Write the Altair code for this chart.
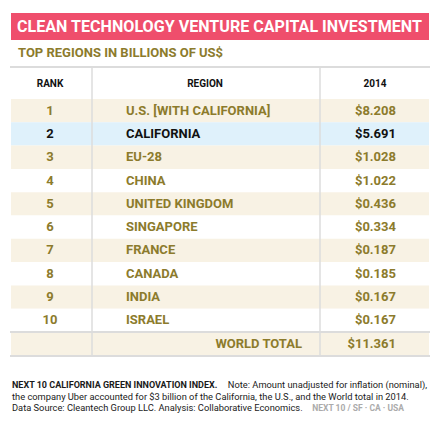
import altair as alt
import pandas as pd

# ---- data ----
TITLE = "CLEAN TECHNOLOGY VENTURE CAPITAL INVESTMENT"
SUBTITLE = "TOP REGIONS IN BILLIONS OF US$"
HEADERS = ["RANK", "REGION", "2014"]
ranks = [1, 2, 3, 4, 5, 6, 7, 8, 9, 10]
regions = ["U.S. [WITH CALIFORNIA]", "CALIFORNIA", "EU-28", "CHINA", "UNITED KINGDOM",
           "SINGAPORE", "FRANCE", "CANADA", "INDIA", "ISRAEL"]
values_2014 = [8.208, 5.691, 1.028, 1.022, 0.436, 0.334, 0.187, 0.185, 0.167, 0.167]
TOTAL_LABEL = "WORLD TOTAL"
TOTAL_VALUE = 11.361
NOTE_BOLD = "NEXT 10 CALIFORNIA GREEN INNOVATION INDEX."
NOTE_1 = "Note: Amount unadjusted for inflation (nominal),"
NOTE_2 = "the company Uber accounted for $3 billion of the California, the U.S., and the World total in 2014."
NOTE_3 = "Data Source: Cleantech Group LLC. Analysis: Collaborative Economics."
NOTE_BRAND = "NEXT 10  /  SF · CA · USA"

# ---- style ----
PINK = "#EF4E6C"
OLIVE = "#8C7B2C"
CREAM = "#F8F2E4"
BLUE = "#DFF1FB"
GRID = "#DCDCDC"
FONT = "Roboto"
NOTE_FONT = "Roboto"

W, H = 425, 412
XS = alt.Scale(domain=[0, W], nice=False, zero=False)
YS = alt.Scale(domain=[-3.406, 14.276], nice=False, zero=False, reverse=True)

n = len(ranks)
table = pd.DataFrame({"rank": ranks, "region": regions, "value": values_2014,
                      "row": list(range(1, n + 1))})

fills = [CREAM if r % 2 == 1 else (BLUE if r == 2 else "#FFFFFF") for r in table["row"]]
bg = pd.DataFrame({"y0": [r - 0.5 for r in table["row"]] + [n + 0.5],
                   "y1": [r + 0.5 for r in table["row"]] + [n + 1.53],
                   "fill": fills + [CREAM]})

one = pd.DataFrame({"k": [0]})


def X(v):
    return alt.datum(v, scale=XS, axis=None)


def Y(v):
    return alt.datum(v, scale=YS, axis=None)


def label(text, x, y, size, color, align="left", weight="bold", font=FONT):
    return alt.Chart(one).mark_text(
        text=text, align=align, baseline="middle", fontSize=size,
        fontWeight=weight, font=font, color=color
    ).encode(x=X(x), y=Y(y))


title_bar = alt.Chart(one).mark_rect(color=PINK).encode(
    x=X(3), x2=alt.datum(421), y=Y(-3.19), y2=alt.datum(-2.03))

row_bg = alt.Chart(bg).mark_rect().encode(
    x=X(3), x2=alt.datum(421),
    y=alt.Y("y0:Q", scale=YS, axis=None), y2="y1:Q",
    color=alt.Color("fill:N", scale=None))

hlines = alt.Chart(pd.DataFrame({"y": [-0.873, n + 0.5, n + 1.53]})).mark_rule(
    color=GRID, strokeWidth=2).encode(
    x=X(2), x2=alt.datum(422), y=alt.Y("y:Q", scale=YS, axis=None))

vlines = alt.Chart(pd.DataFrame({"x": [84, 312]})).mark_rule(
    color=GRID, strokeWidth=1.5).encode(
    x=alt.X("x:Q", scale=XS, axis=None), y=Y(-0.873), y2=alt.datum(n + 1.53))

color_cond = alt.condition(alt.datum.row == 2, alt.value("#111111"), alt.value(OLIVE))

BODY = 13

rank_txt = alt.Chart(table).mark_text(
    align="center", baseline="middle", fontSize=BODY, fontWeight="bold", font=FONT
).encode(x=X(42), y=alt.Y("row:Q", scale=YS, axis=None), text="rank:N", color=color_cond)

region_txt = alt.Chart(table).mark_text(
    align="left", baseline="middle", fontSize=BODY, fontWeight="bold", font=FONT
).encode(x=X(118), y=alt.Y("row:Q", scale=YS, axis=None), text="region:N", color=color_cond)

value_txt = alt.Chart(table).mark_text(
    align="right", baseline="middle", fontSize=BODY, fontWeight="bold", font=FONT
).encode(x=X(388), y=alt.Y("row:Q", scale=YS, axis=None),
         text=alt.Text("value:Q", format="$.3f"), color=color_cond)

total_df = pd.DataFrame({"label": [TOTAL_LABEL], "value": [TOTAL_VALUE], "row": [n + 1.03]})
total_lbl = alt.Chart(total_df).mark_text(
    align="right", baseline="middle", fontSize=BODY, fontWeight="bold", font=FONT, color=OLIVE
).encode(x=X(294), y=alt.Y("row:Q", scale=YS, axis=None), text="label:N")
total_val = alt.Chart(total_df).mark_text(
    align="right", baseline="middle", fontSize=BODY, fontWeight="bold", font=FONT, color=OLIVE
).encode(x=X(388), y=alt.Y("row:Q", scale=YS, axis=None),
         text=alt.Text("value:Q", format="$.3f"))

NOTE_SIZE = 9.3

layers = [
    title_bar, row_bg, hlines, vlines,
    label(TITLE, 9, -2.59, 16.1, "#FFFFFF"),
    label(SUBTITLE, 10, -1.474, 13, OLIVE),
    label(HEADERS[0], 42, -0.144, 10, "#111111", align="center"),
    label(HEADERS[1], 197, -0.144, 10, "#111111", align="center"),
    label(HEADERS[2], 367, -0.144, 10, "#111111", align="center"),
    rank_txt, region_txt, value_txt, total_lbl, total_val,
    label(NOTE_BOLD, 4, 12.77, 9, "#1A1A1A", font=NOTE_FONT),
    label(NOTE_1, 419, 12.77, NOTE_SIZE, "#1A1A1A", align="right", weight="normal", font=NOTE_FONT),
    label(NOTE_2, 4, 13.28, NOTE_SIZE, "#1A1A1A", weight="normal", font=NOTE_FONT),
    label(NOTE_3, 4, 13.78, NOTE_SIZE, "#1A1A1A", weight="normal", font=NOTE_FONT),
    label(NOTE_BRAND, 396, 13.78, 8.5, "#ABABAB", align="right", font=NOTE_FONT),
]

chart = alt.layer(*layers).properties(
    width=W, height=H, padding=0,
    autosize=alt.AutoSizeParams(type="none"),
    background="#FFFFFF"
).configure_view(stroke=None)

chart.save("out.html", embed_options={"renderer": "svg", "actions": False})
